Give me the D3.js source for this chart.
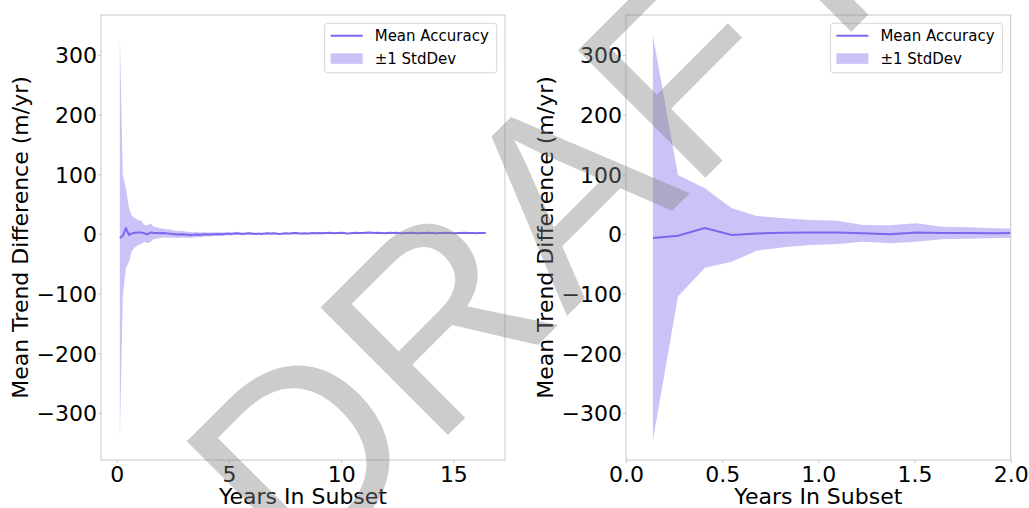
<!DOCTYPE html>
<html>
<head>
<meta charset="utf-8">
<script src="https://cdn.jsdelivr.net/npm/d3@7"></script>
<style>
    body { margin: 0; background: #ffffff; }
</style>
</head>
<body>
<svg id="chartSvg"></svg>
<script>
// Data (one point every ~50 days)
const years = [
    0.14, 0.27, 0.41, 0.55, 0.68, 0.82, 0.96, 1.10, 1.23, 1.37, 1.51, 1.64, 1.78, 1.92, 2.05,
    2.19, 2.33, 2.47, 2.60, 2.74, 2.88, 3.01, 3.15, 3.29, 3.42, 3.56, 3.70, 3.84, 3.97, 4.11,
    4.25, 4.38, 4.52, 4.66, 4.79, 4.93, 5.07, 5.21, 5.34, 5.48, 5.62, 5.75, 5.89, 6.03, 6.16,
    6.30, 6.44, 6.58, 6.71, 6.85, 6.99, 7.12, 7.26, 7.40, 7.53, 7.67, 7.81, 7.95, 8.08, 8.22,
    8.36, 8.49, 8.63, 8.77, 8.90, 9.04, 9.18, 9.32, 9.45, 9.59, 9.73, 9.86, 10.00, 10.14, 10.27,
    10.41, 10.55, 10.68, 10.82, 10.96, 11.10, 11.23, 11.37, 11.51, 11.64, 11.78, 11.92, 12.05, 12.19, 12.33,
    12.47, 12.60, 12.74, 12.88, 13.01, 13.15, 13.29, 13.42, 13.56, 13.70, 13.84, 13.97, 14.11, 14.25, 14.38,
    14.52, 14.66, 14.79, 14.93, 15.07, 15.21, 15.34, 15.48, 15.62, 15.75, 15.89, 16.03, 16.16, 16.30, 16.44
];

const meanAccuracy = [
    -6.9, -3.1, 9.9, -1.8, 0.9, 1.9, 2.4, 2.5, 1, -0.7, 2.4, 1.5, 1.5, 1.2, 1.5,
    1, 0.5, 0, -0.5, -1, -0.5, -1, -1.5, -2, -1.5, -1, -1.5, -1, -0.5, -1,
    -0.5, -0.5, 0, -0.5, 0, 0.5, 0, 0.5, 1, 0.5, 0, 0.5, 1, 0.5, 0,
    0.5, 0, 0.5, 1, 0.5, 1, 0.5, 0, 0.5, 1, 0.5, 1, 1.5, 1, 0.5,
    1, 0.5, 1, 1.5, 1, 1.5, 1, 1.5, 2, 1.5, 1, 1.5, 2, 1.5, 0.5,
    1, 1.5, 2, 1.5, 1.5, 2, 2.5, 2, 1.5, 2, 1.5, 1, 1.5, 2, 1.5,
    2, 1.5, 1, 1.5, 1.5, 2, 1.5, 1, 1.5, 1.5, 2, 1.5, 1.5, 1, 1.5,
    1.5, 2, 1.5, 1.5, 1, 1.5, 1.5, 2, 1.5, 1.5, 1.5, 1, 1.5, 1.5, 1.5
];

const stdDev = [
    339, 102, 66.6, 44.8, 29.1, 24.4, 21, 19.5, 14, 15.1, 15.4, 10.5, 9.5, 8.2, 7.5,
    7, 7, 6.5, 6, 6, 5.5, 5.5, 5, 5, 4.5, 4.5, 4, 4, 3.5, 3.5,
    3.5, 3, 3, 3, 2.8, 2.8, 2.6, 2.5, 2.5, 2.4, 2.3, 2.2, 2.2, 2.1, 2,
    2, 2, 1.9, 1.9, 1.8, 1.8, 1.8, 1.7, 1.7, 1.7, 1.6, 1.6, 1.6, 1.5, 1.5,
    1.5, 1.5, 1.5, 1.4, 1.4, 1.4, 1.4, 1.3, 1.3, 1.3, 1.3, 1.3, 1.2, 1.2, 1.2,
    1.2, 1.2, 1.2, 1.1, 1.1, 1.1, 1.1, 1.1, 1.1, 1, 1, 1, 1, 1, 1,
    1, 1, 1, 1, 1, 1, 1, 1, 1, 1, 1, 1, 1, 1, 1,
    1, 1, 1, 1, 1, 1, 1, 1, 1, 1, 1, 1, 1, 1, 1
];

const leftXTicks = [0, 5, 10, 15];
const rightXTicks = [0, 0.5, 1, 1.5, 2];
const yTicks = [-300, -200, -100, 0, 100, 200, 300];
const legendLabels = ["Mean Accuracy", "\u00b11 StdDev"];
const xTitle = "Years In Subset";
const yTitle = "Mean Trend Difference (m/yr)";
const watermarkText = "DRAFT";

// Select the svg and set its size
let width = 1029;
let height = 508;
let svg = d3.select("#chartSvg")
    .attr("width", width)
    .attr("height", height);

svg.append("rect")
    .attr("width", width)
    .attr("height", height)
    .attr("fill", "#ffffff");

let lineColor = "#7b68ee";
let fontFamily = "DejaVu Sans, sans-serif";
let frameColor = "#c8c8c8";

let rows = years.map((x, i) => ({
    x: x,
    mean: meanAccuracy[i],
    lo: meanAccuracy[i] - stdDev[i],
    hi: meanAccuracy[i] + stdDev[i]
}));

// One panel = frame, band, line, axes, labels and legend
function drawPanel(id, left, right, xDomain, xTicks, xFormat) {
    let top = 15;
    let bottom = 460;

    let x = d3.scaleLinear().domain(xDomain).range([left, right]);
    let y = d3.scaleLinear().domain([-379, 367]).range([bottom, top]);

    let g = svg.append("g").attr("id", id);

    g.append("clipPath")
        .attr("id", id + "-clip")
        .append("rect")
        .attr("x", left)
        .attr("y", top)
        .attr("width", right - left)
        .attr("height", bottom - top);

    let plot = g.append("g").attr("clip-path", `url(#${id}-clip)`);

    let area = d3.area()
        .x((d) => x(d.x))
        .y0((d) => y(d.lo))
        .y1((d) => y(d.hi));

    plot.append("path")
        .datum(rows)
        .attr("d", area)
        .attr("fill", lineColor)
        .attr("fill-opacity", 0.4);

    let line = d3.line()
        .x((d) => x(d.x))
        .y((d) => y(d.mean));

    plot.append("path")
        .datum(rows)
        .attr("d", line)
        .attr("fill", "none")
        .attr("stroke", lineColor)
        .attr("stroke-width", 2)
        .attr("stroke-linejoin", "round");

    // Axes
    let xAxis = g.append("g")
        .attr("transform", `translate(0,${bottom})`)
        .call(d3.axisBottom(x).tickValues(xTicks).tickFormat(xFormat).tickSize(3).tickPadding(3));

    let yAxis = g.append("g")
        .attr("transform", `translate(${left},0)`)
        .call(d3.axisLeft(y).tickValues(yTicks).tickFormat(d3.format("d")).tickSize(3).tickPadding(1));

    [xAxis, yAxis].forEach((axis) => {
        axis.select(".domain").remove();
        axis.selectAll(".tick line").attr("stroke", frameColor);
        axis.selectAll(".tick text")
            .attr("fill", "#000000")
            .style("font-family", fontFamily)
            .style("font-size", "22px");
    });
    yAxis.selectAll(".tick text").attr("dy", "0.36em");

    // Frame
    g.append("rect")
        .attr("x", left)
        .attr("y", top)
        .attr("width", right - left)
        .attr("height", bottom - top)
        .attr("fill", "none")
        .attr("stroke", frameColor)
        .attr("stroke-width", 1);

    // Axis titles
    g.append("text")
        .attr("x", (left + right) / 2)
        .attr("y", 504)
        .attr("text-anchor", "middle")
        .style("font-family", fontFamily)
        .style("font-size", "22px")
        .text(xTitle);

    g.append("text")
        .attr("transform", `translate(${left - 73},${(top + bottom) / 2}) rotate(-90)`)
        .attr("text-anchor", "middle")
        .style("font-family", fontFamily)
        .style("font-size", "22px")
        .text(yTitle);

    // Legend
    let legendW = 172;
    let legendH = 49.5;
    let lx = right - 8.3 - legendW;
    let ly = top + 8.3;
    let legend = g.append("g").attr("transform", `translate(${lx},${ly})`);

    legend.append("rect")
        .attr("width", legendW)
        .attr("height", legendH)
        .attr("rx", 3)
        .attr("fill", "#ffffff")
        .attr("fill-opacity", 0.8)
        .attr("stroke", "#d6d6d6")
        .attr("stroke-width", 1);

    legend.append("line")
        .attr("x1", 6)
        .attr("x2", 38)
        .attr("y1", 12.4)
        .attr("y2", 12.4)
        .attr("stroke", lineColor)
        .attr("stroke-width", 2);

    legend.append("rect")
        .attr("x", 6)
        .attr("y", 30)
        .attr("width", 32)
        .attr("height", 10.5)
        .attr("fill", lineColor)
        .attr("fill-opacity", 0.4);

    legend.selectAll("text.label")
        .data(legendLabels)
        .enter()
        .append("text")
        .attr("class", "label")
        .attr("x", 50)
        .attr("y", (d, i) => 17.8 + i * 22.5)
        .style("font-family", fontFamily)
        .style("font-size", "15px")
        .attr("fill", "#000000")
        .text((d) => d);
}

drawPanel("leftPanel", 101, 505, [-0.70, 17.30], leftXTicks, d3.format("d"));
drawPanel("rightPanel", 626, 1010.7, [0, 2], rightXTicks, d3.format(".1f"));

// Watermark on top of everything
svg.append("text")
    .attr("transform", "translate(299,584) rotate(-45)")
    .style("font-family", "Liberation Sans, Arial, sans-serif")
    .style("font-size", "262px")
    .attr("fill", "#808080")
    .attr("fill-opacity", 0.4)
    .text(watermarkText);
</script>
</body>
</html>
